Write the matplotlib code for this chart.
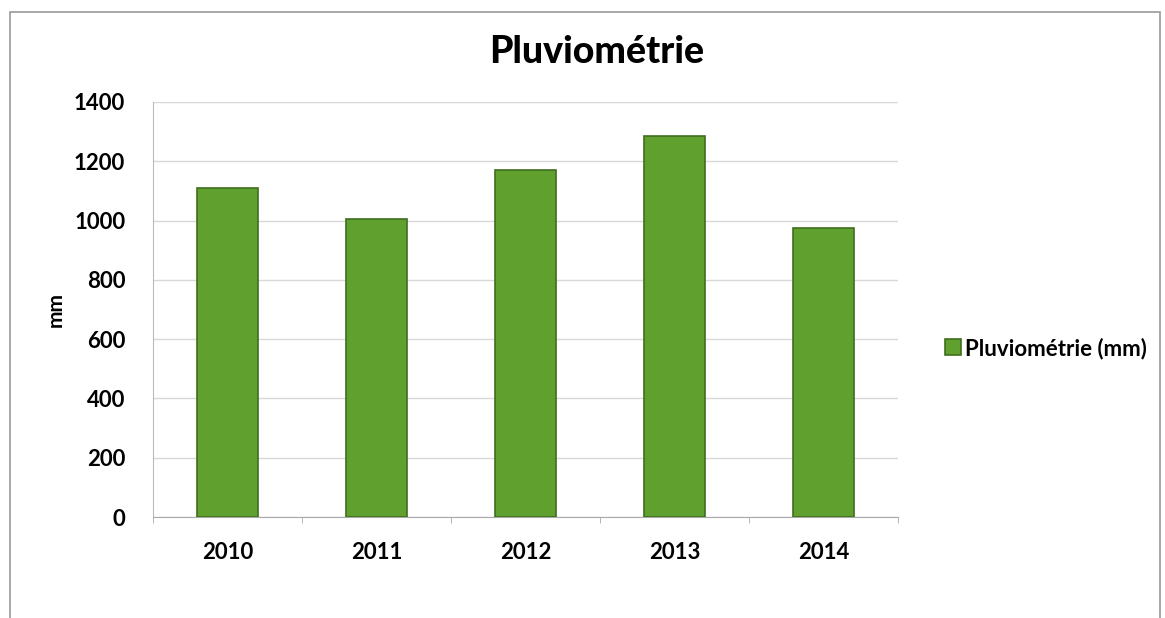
import matplotlib.pyplot as plt
from matplotlib.patches import Rectangle

years = ['2010', '2011', '2012', '2013', '2014']
rain_mm = [1110, 1005, 1170, 1285, 975]

plt.rcParams['font.family'] = ['Lato', 'DejaVu Sans']

fig = plt.figure(figsize=(11.65, 6.18), dpi=100)
ax = fig.add_axes([153 / 1165, 1 - 517 / 618, 745 / 1165, 415 / 618])

x = range(len(years))
ax.bar(x, rain_mm, width=0.41, color='#60a02e', edgecolor='#3f6e1c',
       linewidth=1.2, label='Pluviométrie (mm)', zorder=3)

ax.set_xlim(-0.5, len(years) - 0.5)
ax.set_ylim(0, 1400)
ax.set_yticks(range(0, 1401, 200))
ax.set_xticks(list(x))
ax.set_xticklabels(years)
ax.tick_params(axis='both', labelsize=16, length=0)
for lbl in ax.get_xticklabels() + ax.get_yticklabels():
    lbl.set_fontweight('bold')
ax.tick_params(axis='x', pad=18)
ax.tick_params(axis='y', pad=20)

# category separators on the x axis
ax.set_xticks([i + 0.5 for i in range(-1, len(years))], minor=True)
ax.tick_params(axis='x', which='minor', length=4, color='#aaaaaa')

ax.grid(axis='y', color='#d8d8d8', linewidth=1, zorder=0)
for s in ['top', 'right']:
    ax.spines[s].set_visible(False)
ax.spines['left'].set_color('#bbbbbb')
ax.spines['bottom'].set_color('#aaaaaa')

ax.set_ylabel('mm', fontsize=15, fontweight='bold', labelpad=6)
fig.text(597 / 1165, 1 - 52 / 618, 'Pluviométrie', ha='center', va='center',
         fontsize=27, fontweight='black')

ax.legend(loc='center left', bbox_to_anchor=(925 / 745 - 153 / 745, 0.407),
          frameon=False, handlelength=0.7, handleheight=0.7,
          handletextpad=0.2, prop={'weight': 'bold', 'size': 16})

# chart border
fig.patches.append(Rectangle((10 / 1165, -0.05), 1150 / 1165, 1 - 12 / 618 + 0.05,
                             transform=fig.transFigure, fill=False,
                             edgecolor='#9a9a9a', linewidth=1.2))

fig.savefig('out.png', dpi=100)
